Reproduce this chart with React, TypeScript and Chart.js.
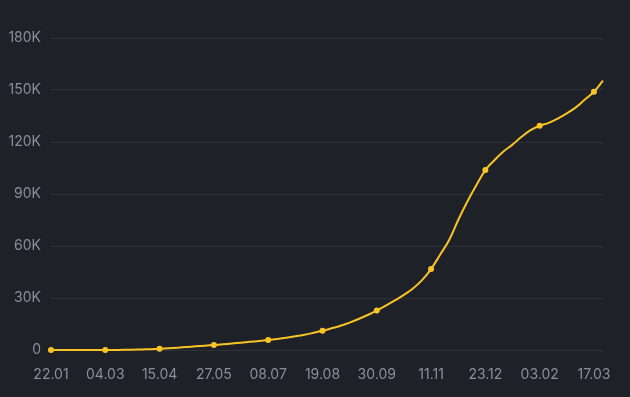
import React, { useEffect, useRef } from "react";
import { Chart, registerables } from "chart.js";

Chart.register(...registerables);

const dates: string[] = [
  "22.01", "29.01", "05.02", "12.02", "19.02", "26.02", "04.03", "11.03", "18.03", "25.03",
  "01.04", "08.04", "15.04", "22.04", "29.04", "06.05", "13.05", "20.05", "27.05", "03.06",
  "10.06", "17.06", "24.06", "01.07", "08.07", "15.07", "22.07", "29.07", "05.08", "12.08",
  "19.08", "26.08", "02.09", "09.09", "16.09", "23.09", "30.09", "07.10", "14.10", "21.10",
  "28.10", "04.11", "11.11", "18.11", "25.11", "02.12", "09.12", "16.12", "23.12", "30.12",
  "06.01", "13.01", "20.01", "27.01", "03.02", "10.02", "17.02", "24.02", "03.03", "10.03",
  "17.03", "24.03",
];

const values: number[] = [
  0, 0, 0, 0, 0, 2, 10, 30, 80, 170,
  300, 480, 700, 1000, 1350, 1700, 2100, 2500, 2900, 3300,
  3750, 4200, 4700, 5200, 5770, 6400, 7100, 7900, 8800, 9900,
  11100, 12500, 14000, 15800, 17900, 20200, 22800, 25600, 28600, 31800,
  35500, 40300, 46700, 55000, 63500, 75000, 85500, 95000, 103800, 109500,
  114500, 118500, 123000, 126800, 129400, 131000, 133500, 136500, 140000, 144500,
  149000, 155400,
];

const labelEvery = 6;
const yMax = 180000;
const yStep = 30000;

export default function App() {
  const ref = useRef<HTMLCanvasElement | null>(null);

  useEffect(() => {
    if (!ref.current) return;
    const color = "#f7c325";
    const chart = new Chart(ref.current, {
      type: "line",
      data: {
        labels: dates,
        datasets: [
          {
            data: values,
            borderColor: color,
            backgroundColor: color,
            borderWidth: 2,
            tension: 0.4,
            clip: false,
            pointRadius: (ctx: any) => (ctx.dataIndex % labelEvery === 0 ? 3 : 0),
            pointHoverRadius: 0,
            pointBorderWidth: 0,
            fill: false,
          },
        ],
      },
      options: {
        responsive: false,
        animation: false,
        layout: { padding: { top: 38, right: 27, left: 0, bottom: 0 } },
        plugins: { legend: { display: false }, tooltip: { enabled: false } },
        scales: {
          x: {
            grid: { display: false },
            border: { display: false },
            afterFit: (s: any) => {
              s.height = 47;
            },
            ticks: {
              autoSkip: false,
              maxRotation: 0,
              padding: 8,
              color: "#8b8e99",
              font: { family: "Inter", size: 14 },
              callback: (_v: any, i: number) => (i % labelEvery === 0 ? dates[i] : ""),
            },
          },
          y: {
            min: 0,
            max: yMax,
            border: { display: false },
            grid: { color: "#2f3139", drawTicks: false, lineWidth: 1 },
            afterFit: (s: any) => {
              s.width = 51;
            },
            ticks: {
              stepSize: yStep,
              padding: 10,
              color: "#8b8e99",
              font: { family: "Inter", size: 14 },
              callback: (v: any) => (v === 0 ? "0" : v / 1000 + "K"),
            },
          },
        },
      },
    });
    return () => chart.destroy();
  }, []);

  return (
    <div
      style={{
        position: "fixed",
        left: 0,
        top: 0,
        width: 630,
        height: 397,
        background: "#1f2128",
      }}
    >
      <canvas ref={ref} width={630} height={397} style={{ display: "block" }} />
    </div>
  );
}
